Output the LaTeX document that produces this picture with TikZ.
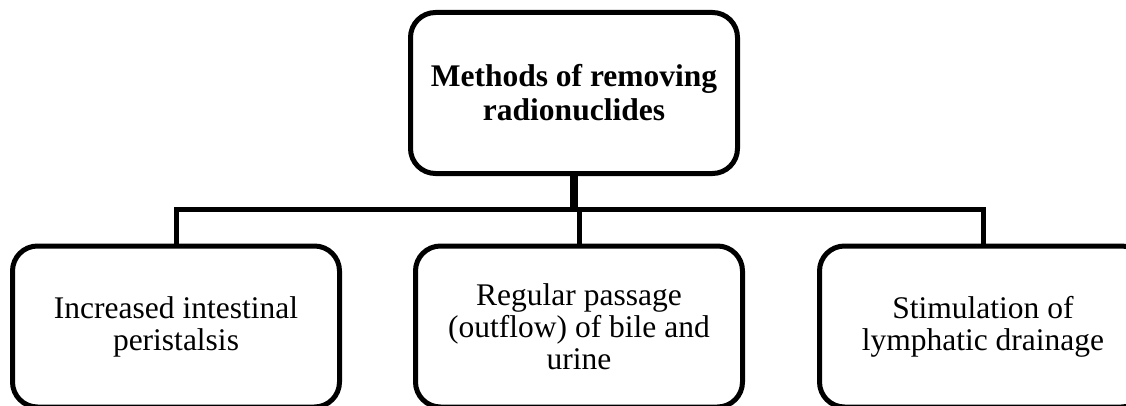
\documentclass[tikz,border=0pt]{standalone}
\usepackage{fontspec}
\setmainfont{Liberation Serif}
\usetikzlibrary{positioning}

\begin{document}
\begin{tikzpicture}[x=1pt, y=1pt,
  box/.style={draw, line width=5pt, rounded corners=25pt, minimum width=327pt,
    minimum height=161pt, inner sep=0pt, align=center, font=\fontsize{31.5}{32}\selectfont},
  headbox/.style={box, font=\bfseries\fontsize{31.5}{34}\selectfont},
  methodbox/.style={box},
  link/.style={line width=5pt}]

\useasboundingbox (0,0) rectangle (1126,405);

% Caja principal
\node[headbox] (methods) at (574,312) {Methods of removing\\radionuclides};

% Tres metodos
\node[methodbox] (peristalsis) at (176,78.5) {Increased intestinal\\peristalsis};
\node[methodbox, right=71pt of peristalsis] (bile) {Regular passage\\(outflow) of bile and\\urine};
\node[methodbox, right=72pt of bile] (lymph) {Stimulation of\\lymphatic drainage};

% Conexiones
\coordinate (bar) at (574,195.5);
\draw[line width=8pt] (methods.south) -- (methods.south |- bar);
\draw[link] (peristalsis.north) -- (peristalsis.north |- bar) -- (lymph.north |- bar) -- (lymph.north);
\draw[link] (bile.north |- bar) -- (bile.north);

\end{tikzpicture}
\end{document}
